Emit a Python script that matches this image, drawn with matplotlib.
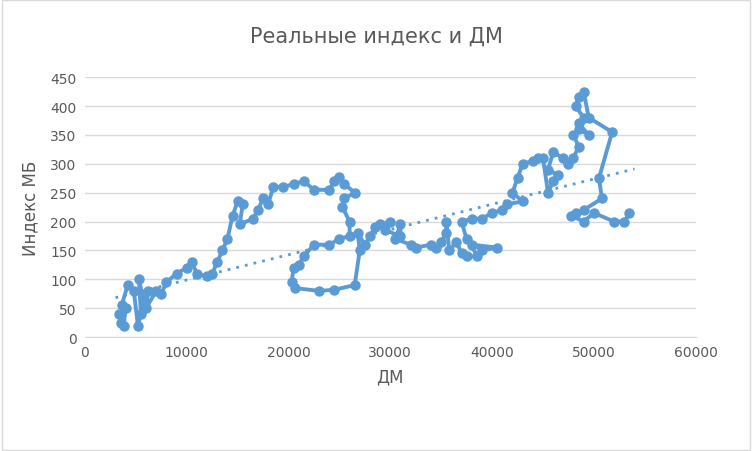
import matplotlib
matplotlib.use("Agg")
import matplotlib.pyplot as plt
import numpy as np

dm = [3300,3500,3800,4000,3600,4200,4800,5200,5500,5300,5800,6200,6000,7000,7500,8000,9000,10000,10500,11000,12000,12500,13000,13500,14000,14500,15000,15500,15200,16500,17000,17500,18000,18500,19500,20500,21500,22500,24000,24500,25000,25500,26500,25500,25300,26000,26000,25000,24000,22500,21500,21000,20500,20300,20600,23000,24500,26500,27000,26800,27500,28000,28500,29000,30000,29500,31000,31000,30500,32000,32500,34000,34500,35000,35500,35500,35800,36500,37000,37500,38500,38000,40500,39000,37500,37000,38000,39000,40000,41000,41500,43000,42000,42500,43000,44000,44500,45000,45500,46000,46500,45500,46000,47000,47500,48000,48500,48000,48500,49500,48500,49000,48200,48500,49000,49500,51800,50500,50800,49000,48200,47800,49000,50000,52000,53000,53500]
mb = [40,25,20,50,55,90,80,20,40,100,60,80,50,80,75,95,110,120,130,110,105,110,130,150,170,210,235,230,195,205,220,240,230,260,260,265,270,255,255,270,278,265,250,240,225,200,175,170,160,160,140,125,120,95,85,80,82,90,150,180,160,175,190,195,200,185,175,195,170,160,155,160,155,165,180,200,150,165,145,140,140,160,155,150,170,200,205,205,215,220,230,235,250,275,300,305,310,310,250,270,280,290,320,310,300,310,330,350,360,350,370,380,400,415,425,380,355,275,240,220,215,210,200,215,200,200,215]

fig = plt.figure(figsize=(7.52, 4.52), dpi=100)
ax = fig.add_axes([0.113, 0.252, 0.812, 0.575])
c = "#5b9bd5"
ax.plot(dm, mb, color=c, lw=2.8, marker="o", ms=6.5, zorder=3)
k, b = np.polyfit(dm, mb, 1)
xs = np.array([3000, 54000])
ax.plot(xs, k*xs+b - 13, color=c, lw=2, ls=(0, (1, 2.2)), zorder=2)
ax.set_xlim(0, 60000); ax.set_ylim(0, 450)
ax.set_xticks(range(0, 60001, 10000)); ax.set_yticks(range(0, 451, 50))
ax.grid(axis="y", color="#d9d9d9", lw=1); ax.set_axisbelow(True)
for s in ["top", "right", "left"]: ax.spines[s].set_visible(False)
ax.spines["bottom"].set_color("#d9d9d9")
ax.tick_params(length=0, colors="#595959", labelsize=10, pad=6)
ax.set_xlabel("ДМ", color="#595959", fontsize=12, labelpad=6)
ax.set_ylabel("Индекс МБ", color="#595959", fontsize=12, labelpad=8)
fig.suptitle("Реальные индекс и ДМ", color="#595959", fontsize=15, y=0.94)
fig.patches.append(plt.Rectangle((0.002, 0.002), 0.996, 0.996, transform=fig.transFigure, fill=False, ec="#d9d9d9", lw=1))
fig.savefig("out.png", dpi=100)
